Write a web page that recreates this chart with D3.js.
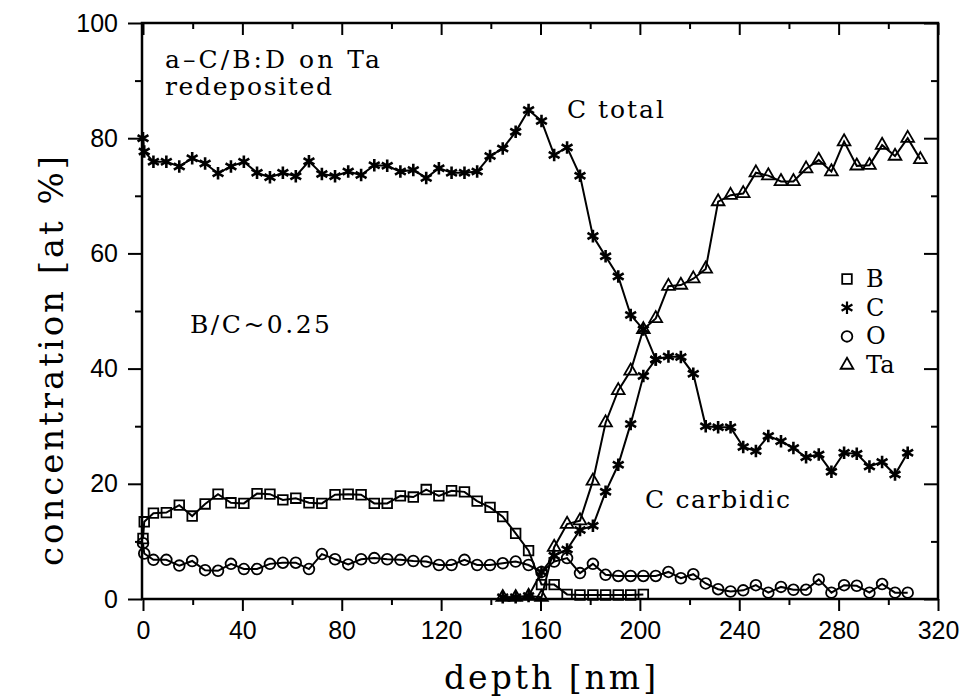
<!DOCTYPE html>
<html>
<head>
<meta charset="utf-8">
<script src="https://cdn.jsdelivr.net/npm/d3@7"></script>
<style>
  body { margin: 0; background: #fff; }
  svg { display: block; }
  .tick text { font-family: "Liberation Sans", sans-serif; font-size: 25px; fill: #000; }
  .label { font-family: "DejaVu Serif", serif; fill: #000; }
</style>
</head>
<body>
<script>
// depth of every sputter step [nm] (first two are the surface points)
var depth = [0, 0.5, 4.2, 9.4, 14.6, 19.8, 25.0, 30.2, 35.4, 40.6, 45.9, 51.1,
  56.3, 61.5, 66.8, 72.0, 77.3, 82.6, 87.8, 93.1, 98.3, 103.6, 108.8, 114.0,
  119.1, 124.2, 129.4, 134.5, 139.7, 144.8, 150.0, 155.2, 160.4, 165.5, 170.7,
  175.9, 181.1, 186.2, 191.3, 196.3, 201.4, 206.4, 211.5, 216.5, 221.5, 226.5,
  231.5, 236.5, 241.6, 246.7, 251.7, 256.8, 261.8, 266.9, 272.0, 277.1, 282.2,
  287.3, 292.4, 297.5, 302.7, 307.8, 312.9];

// concentrations [at %]; each series starts at depth[start]
var boron = [10.5, 13.4, 14.9, 15.0, 16.3, 14.4, 16.5, 18.2, 16.7, 16.6, 18.3,
  18.2, 17.2, 17.5, 16.7, 16.6, 18.1, 18.2, 18.1, 16.6, 16.6, 17.9, 17.7, 19.0,
  17.9, 18.8, 18.6, 17.0, 15.9, 14.3, 11.4, 8.4, 2.5, 2.5, 0.8, 0.7, 0.7, 0.7,
  0.7, 0.7, 0.8];
var boronStart = 0;

var carbonTotal = [80.0, 77.7, 75.9, 75.9, 75.1, 76.5, 75.6, 73.9, 75.1, 75.9,
  74.0, 73.2, 74.0, 73.4, 76.0, 73.8, 73.4, 74.2, 73.6, 75.3, 75.2, 74.2, 74.5,
  73.1, 74.8, 74.0, 74.0, 74.2, 76.9, 78.2, 81.1, 84.9, 83.0, 77.1, 78.4, 73.5,
  63.0, 59.5, 56.0, 49.3, 46.8, 41.6];
var carbonTotalStart = 0;

var carbonCarbidic = [0.3, 0.3, 0.5, 4.7, 7.5, 8.6, 12.0, 12.7, 18.6, 23.3,
  30.4, 38.7, 41.6, 42.1, 42.0, 39.1, 30.0, 29.8, 29.8, 26.4, 25.7, 28.3, 27.4,
  26.2, 24.6, 25.1, 22.1, 25.4, 25.2, 23.0, 23.8, 21.6, 25.4];
var carbonCarbidicStart = 29;

var oxygen = [9.7, 7.9, 6.8, 6.8, 5.8, 6.6, 5.0, 4.9, 6.1, 5.2, 5.2, 6.1, 6.3,
  6.3, 5.2, 7.8, 6.9, 6.0, 6.9, 7.1, 6.9, 6.8, 6.6, 6.5, 5.9, 5.9, 6.8, 5.9,
  5.9, 6.2, 6.5, 5.9, 4.7, 6.5, 7.1, 4.5, 6.1, 4.2, 4.0, 4.0, 4.0, 4.0, 4.7,
  3.6, 4.3, 2.7, 1.7, 1.3, 1.5, 2.4, 1.1, 2.1, 1.6, 1.6, 3.4, 1.1, 2.4, 2.3,
  1.1, 2.6, 1.1, 1.1];
var oxygenStart = 0;

var tantalum = [0.3, 0.3, 0.5, 0.3, 9.0, 13.0, 13.6, 20.5, 30.6, 36.2, 39.6,
  46.8, 48.7, 54.3, 54.5, 55.6, 57.3, 69.0, 70.1, 70.4, 74.0, 73.5, 72.5, 72.5,
  74.7, 76.2, 74.2, 79.4, 75.2, 75.3, 78.8, 76.9, 80.0, 76.3];
var tantalumStart = 29;

var xMajor = [0, 40, 80, 120, 160, 200, 240, 280, 320];
var xMinor = [20, 60, 100, 140, 180, 220, 260, 300];
var yMajor = [0, 20, 40, 60, 80, 100];
var yMinor = [10, 30, 50, 70, 90];

var legendNames = ['B', 'C', 'O', 'Ta'];

var width = 966, height = 699;
var frameL = 142, frameR = 938, frameT = 23, frameB = 599;

var svg = d3.select('body').append('svg')
  .attr('width', width)
  .attr('height', height);

var x = d3.scaleLinear().domain([0, 320]).range([143, frameR]);
var y = d3.scaleLinear().domain([0, 100]).range([frameB, frameT]);

function pts(vals, start) {
  return vals.map(function(v, i) { return [depth[start + i], v]; });
}

var symbols = {
  square: d3.symbol().type(d3.symbolSquare).size(92),
  star: d3.symbol().type(d3.symbolAsterisk).size(110),
  circle: d3.symbol().type(d3.symbolCircle).size(90),
  triangle: d3.symbol().type(d3.symbolTriangle).size(70)
};

var series = [
  { data: pts(boron, boronStart), sym: 'square' },
  { data: pts(oxygen, oxygenStart), sym: 'circle' },
  { data: pts(tantalum, tantalumStart), sym: 'triangle' },
  { data: pts(carbonTotal, carbonTotalStart), sym: 'star' },
  { data: pts(carbonCarbidic, carbonCarbidicStart), sym: 'star' }
];

// axes: left/bottom ticks point out, top/right ticks point in
function axis(gen, ticks, size, labels, tx, ty) {
  var a = gen.tickValues(ticks).tickSize(size).tickSizeOuter(0);
  if (labels) a.tickPadding(10); else a.tickFormat('');
  var g = svg.append('g').attr('transform', 'translate(' + tx + ',' + ty + ')').call(a);
  g.select('.domain').remove();
  g.selectAll('line').attr('stroke', '#000').attr('stroke-width', 2);
  return g;
}
axis(d3.axisLeft(y), yMajor, 14, true, frameL, 0);
axis(d3.axisLeft(y), yMinor, 7, false, frameL, 0);
axis(d3.axisLeft(y), yMajor, 14, false, frameR, 0);
axis(d3.axisLeft(y), yMinor, 7, false, frameR, 0);
axis(d3.axisBottom(x), xMajor, 12, true, 0, frameB);
axis(d3.axisBottom(x), xMinor, 6, false, 0, frameB);
axis(d3.axisBottom(x), xMajor, 12, false, 0, frameT);
axis(d3.axisBottom(x), xMinor, 6, false, 0, frameT);

svg.append('rect')
  .attr('x', frameL).attr('y', frameT)
  .attr('width', frameR - frameL).attr('height', frameB - frameT)
  .attr('fill', 'none').attr('stroke', '#000').attr('stroke-width', 2.5);

var line = d3.line()
  .x(function(d) { return x(d[0]); })
  .y(function(d) { return y(d[1]); });

series.forEach(function(s) {
  svg.append('path')
    .attr('d', line(s.data))
    .attr('fill', 'none')
    .attr('stroke', '#000')
    .attr('stroke-width', 2);
});

series.forEach(function(s) {
  svg.append('g').selectAll('path')
    .data(s.data)
    .enter().append('path')
    .attr('d', symbols[s.sym])
    .attr('transform', function(d) { return 'translate(' + x(d[0]) + ',' + y(d[1]) + ')'; })
    .attr('fill', 'none')
    .attr('stroke', '#000')
    .attr('stroke-width', s.sym == 'star' ? 2.6 : 1.8);
});

// legend
var legendSyms = ['square', 'star', 'circle', 'triangle'];
var legend = svg.append('g');
legendNames.forEach(function(name, i) {
  var cy = 279 + i * 28.7;
  legend.append('path')
    .attr('d', symbols[legendSyms[i]])
    .attr('transform', 'translate(847,' + cy + ')')
    .attr('fill', 'none')
    .attr('stroke', '#000')
    .attr('stroke-width', legendSyms[i] == 'star' ? 2.2 : 1.8);
  legend.append('text')
    .attr('class', 'label')
    .attr('x', 866).attr('y', cy + 8)
    .attr('font-size', 24)
    .text(name);
});

// annotations
function note(txt, tx, ty, len, size) {
  svg.append('text')
    .attr('class', 'label')
    .attr('x', tx).attr('y', ty)
    .attr('font-size', size)
    .attr('textLength', len)
    .attr('lengthAdjust', 'spacing')
    .text(txt);
}
note('a\u2013C/B:D on Ta', 165, 68, 215, 25);
note('redeposited', 165, 95, 167, 25);
note('C total', 567, 118, 97, 25);
note('B/C~0.25', 190, 333, 140, 25);
note('C carbidic', 645, 508, 145, 25);

svg.append('text')
  .attr('class', 'label')
  .attr('x', 550).attr('y', 689)
  .attr('text-anchor', 'middle')
  .attr('font-size', 33)
  .attr('textLength', 212)
  .attr('lengthAdjust', 'spacing')
  .text('depth [nm]');

svg.append('text')
  .attr('class', 'label')
  .attr('transform', 'translate(63,361) rotate(-90)')
  .attr('text-anchor', 'middle')
  .attr('font-size', 34)
  .attr('textLength', 410)
  .attr('lengthAdjust', 'spacing')
  .text('concentration [at %]');
</script>
</body>
</html>
